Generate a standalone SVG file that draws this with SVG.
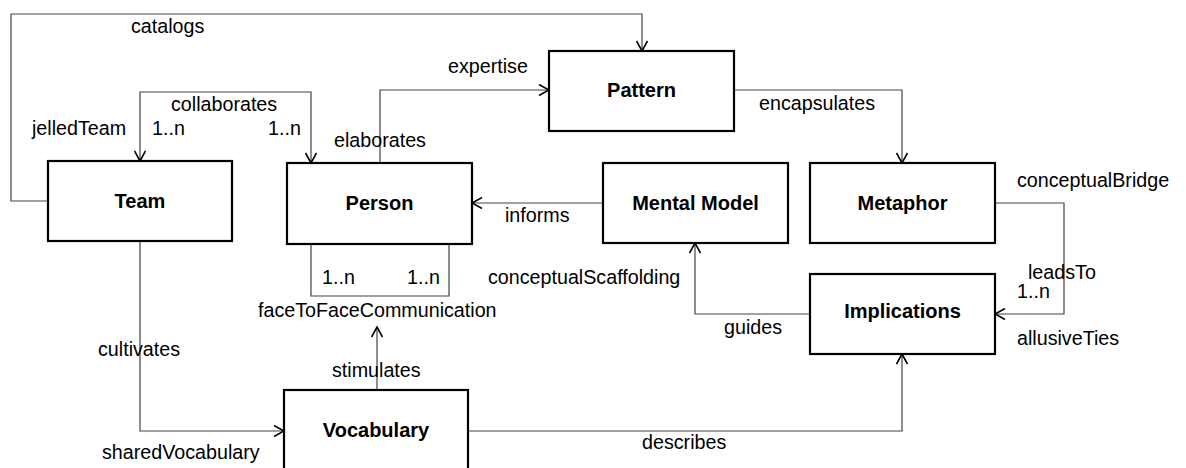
<svg xmlns="http://www.w3.org/2000/svg" width="1186" height="468" viewBox="0 0 1186 468">
<defs>
<marker id="arr" viewBox="0 0 12 12" refX="11" refY="6" markerWidth="12" markerHeight="12" markerUnits="userSpaceOnUse" orient="auto-start-reverse">
<path d="M1,0.5 L11,6 L1,11.5" fill="none" stroke="#000" stroke-width="1.6"/>
</marker>
<style>
.box{fill:#fff;stroke:#000;stroke-width:2.2}
.name{font-family:"Liberation Sans",Arial,sans-serif;font-size:20px;font-weight:bold;text-anchor:middle;fill:#000}
.lbl{font-family:"Liberation Sans",Arial,sans-serif;font-size:19.7px;fill:#000}
.c{fill:none;stroke:#444;stroke-width:1.2}
.a{marker-end:url(#arr)}
.b{marker-start:url(#arr);marker-end:url(#arr)}
</style>
</defs>
<rect width="1186" height="468" fill="#fff"/>
<g id="connectors">
<path class="c a" d="M48,201 H11 V14 H642 V51"/>
<path class="c b" d="M140,161 V92 H311 V163"/>
<path class="c a" d="M380,163 V90 H549"/>
<path class="c a" d="M734,90 H902 V163"/>
<path class="c a" d="M603,203 H472"/>
<path class="c a" d="M995,203 H1064 V314 H995"/>
<path class="c a" d="M810,314 H695 V243"/>
<path class="c" d="M311,244 V296 H449 V244"/>
<path class="c a" d="M377,390 V327"/>
<path class="c a" d="M140,242 V431 H284"/>
<path class="c a" d="M468,431 H902 V354"/>
<text class="lbl" x="131" y="33">catalogs</text>
<text class="lbl" x="171" y="111">collaborates</text>
<text class="lbl" x="32" y="135">jelledTeam</text>
<text class="lbl" x="152" y="135">1..n</text>
<text class="lbl" x="268" y="135">1..n</text>
<text class="lbl" x="334" y="146.5">elaborates</text>
<text class="lbl" x="448" y="73">expertise</text>
<text class="lbl" x="759" y="110">encapsulates</text>
<text class="lbl" x="505" y="222">informs</text>
<text class="lbl" x="1017" y="187">conceptualBridge</text>
<text class="lbl" x="1028" y="279">leadsTo</text>
<text class="lbl" x="1017" y="298">1..n</text>
<text class="lbl" x="1017" y="345">allusiveTies</text>
<text class="lbl" x="488" y="284">conceptualScaffolding</text>
<text class="lbl" x="724" y="334">guides</text>
<text class="lbl" x="322" y="284">1..n</text>
<text class="lbl" x="407" y="284">1..n</text>
<text class="lbl" x="258" y="317">faceToFaceCommunication</text>
<text class="lbl" x="332" y="377">stimulates</text>
<text class="lbl" x="98" y="355.5">cultivates</text>
<text class="lbl" x="102" y="459">sharedVocabulary</text>
<text class="lbl" x="642" y="449">describes</text>
</g>
<g id="node-team"><rect class="box" x="48" y="161" width="184" height="80"/><text class="name" x="140" y="208">Team</text></g>
<g id="node-person"><rect class="box" x="287" y="163" width="185" height="81"/><text class="name" x="379.5" y="210">Person</text></g>
<g id="node-pattern"><rect class="box" x="549" y="51" width="185" height="80"/><text class="name" x="641.5" y="97">Pattern</text></g>
<g id="node-mentalmodel"><rect class="box" x="603" y="163" width="185" height="80"/><text class="name" x="695.5" y="210">Mental Model</text></g>
<g id="node-metaphor"><rect class="box" x="810" y="163" width="185" height="80"/><text class="name" x="902.5" y="210">Metaphor</text></g>
<g id="node-implications"><rect class="box" x="810" y="274" width="185" height="80"/><text class="name" x="902.5" y="318">Implications</text></g>
<g id="node-vocabulary"><rect class="box" x="284" y="390" width="184" height="82"/><text class="name" x="376" y="437">Vocabulary</text></g>
</svg>
